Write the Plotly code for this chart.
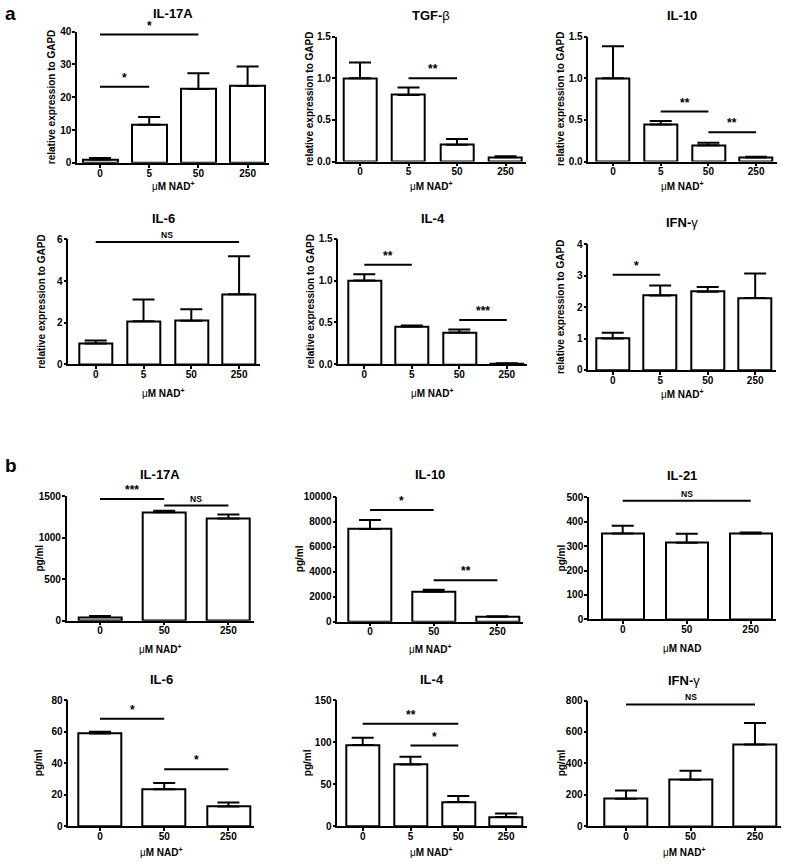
import plotly.graph_objects as go

W, H = 787, 866

# ---------------- data ----------------
cats4 = ["0", "5", "50", "250"]
cats3 = ["0", "50", "250"]

# panel a: relative expression to GAPD (mean, upper SEM)
a_il17a = [1.0, 11.6, 22.5, 23.4]
a_il17a_err = [0.45, 2.4, 4.8, 6.0]
a_tgfb = [1.0, 0.80, 0.20, 0.05]
a_tgfb_err = [0.19, 0.09, 0.07, 0.012]
a_il10 = [1.0, 0.445, 0.195, 0.048]
a_il10_err = [0.385, 0.04, 0.03, 0.008]
a_il6 = [1.0, 2.07, 2.09, 3.37]
a_il6_err = [0.14, 1.04, 0.56, 1.82]
a_il4 = [1.0, 0.452, 0.38, 0.01]
a_il4_err = [0.075, 0.012, 0.035, 0.003]
a_ifng = [1.0, 2.37, 2.49, 2.29]
a_ifng_err = [0.18, 0.32, 0.15, 0.78]

# panel b: pg/ml
b_il17a = [45, 1310, 1232]
b_il17a_err = [12, 18, 50]
b_il10 = [7420, 2390, 400]
b_il10_err = [720, 160, 35]
b_il21 = [352, 314, 352]
b_il21_err = [32, 37, 4]
b_il6 = [58.8, 23.5, 12.5]
b_il6_err = [1.2, 4.0, 2.5]
b_il4 = [96.8, 73.5, 28.7, 11.0]
b_il4_err = [8.5, 9.2, 7.2, 4.0]
b_ifng = [174, 296, 520]
b_ifng_err = [53, 57, 137]

# significance bars: (from index, to index, y value, label)
sig_a_il17a = [(0, 2, 39.1, "*"), (0, 1, 23.2, "*")]
sig_a_tgfb = [(1, 2, 1.0, "**")]
sig_a_il10 = [(1, 2, 0.60, "**"), (2, 3, 0.35, "**")]
sig_a_il6 = [(0, 3, 5.87, "NS")]
sig_a_il4 = [(0, 1, 1.19, "**"), (2, 3, 0.53, "***")]
sig_a_ifng = [(0, 1, 3.03, "*")]
sig_b_il17a = [(0, 1, 1468, "***"), (1, 2, 1389, "NS")]
sig_b_il10 = [(0, 1, 8940, "*"), (1, 2, 3310, "**")]
sig_b_il21 = [(0, 2, 486, "NS")]
sig_b_il6 = [(0, 1, 68.3, "*"), (1, 2, 36.2, "*")]
sig_b_il4 = [(0, 2, 122, "**"), (1, 2, 96, "*")]
sig_b_ifng = [(0, 2, 775, "NS")]

ytitle_a = "<b>relative expression to GAPD</b>"
ytitle_b = "<b>pg/ml</b>"
xtitle_plus = "μ<b>M NAD<sup>+</sup></b>"
xtitle_plain = "μ<b>M NAD</b>"

panels = [
    dict(title="<b>IL-17A</b>", cats=cats4, v=a_il17a, e=a_il17a_err, ymax=40, dt=10, fmt="d", yt=ytitle_a, xt=xtitle_plus, sig=sig_a_il17a),
    dict(title="<b>TGF-</b>β", cats=cats4, v=a_tgfb, e=a_tgfb_err, ymax=1.5, dt=0.5, fmt=".1f", yt=ytitle_a, xt=xtitle_plus, sig=sig_a_tgfb),
    dict(title="<b>IL-10</b>", cats=cats4, v=a_il10, e=a_il10_err, ymax=1.5, dt=0.5, fmt=".1f", yt=ytitle_a, xt=xtitle_plus, sig=sig_a_il10),
    dict(title="<b>IL-6</b>", cats=cats4, v=a_il6, e=a_il6_err, ymax=6, dt=2, fmt="d", yt=ytitle_a, xt=xtitle_plus, sig=sig_a_il6),
    dict(title="<b>IL-4</b>", cats=cats4, v=a_il4, e=a_il4_err, ymax=1.5, dt=0.5, fmt=".1f", yt=ytitle_a, xt=xtitle_plus, sig=sig_a_il4),
    dict(title="<b>IFN-</b>γ", cats=cats4, v=a_ifng, e=a_ifng_err, ymax=4, dt=1, fmt="d", yt=ytitle_a, xt=xtitle_plus, sig=sig_a_ifng),
    dict(title="<b>IL-17A</b>", cats=cats3, v=b_il17a, e=b_il17a_err, ymax=1500, dt=500, fmt="d", yt=ytitle_b, xt=xtitle_plus, sig=sig_b_il17a),
    dict(title="<b>IL-10</b>", cats=cats3, v=b_il10, e=b_il10_err, ymax=10000, dt=2000, fmt="d", yt=ytitle_b, xt=xtitle_plus, sig=sig_b_il10),
    dict(title="<b>IL-21</b>", cats=cats3, v=b_il21, e=b_il21_err, ymax=500, dt=100, fmt="d", yt=ytitle_b, xt=xtitle_plain, sig=sig_b_il21),
    dict(title="<b>IL-6</b>", cats=cats3, v=b_il6, e=b_il6_err, ymax=80, dt=20, fmt="d", yt=ytitle_b, xt=xtitle_plus, sig=sig_b_il6),
    dict(title="<b>IL-4</b>", cats=cats4, v=b_il4, e=b_il4_err, ymax=150, dt=50, fmt="d", yt=ytitle_b, xt=xtitle_plus, sig=sig_b_il4),
    dict(title="<b>IFN-</b>γ", cats=cats3, v=b_ifng, e=b_ifng_err, ymax=800, dt=200, fmt="d", yt=ytitle_b, xt=xtitle_plus, sig=sig_b_ifng),
]

# ---------------- layout geometry (pixels) ----------------
# left axis x, first bar centre, bar spacing, top(ymax) y, bottom(0) y, bar width,
# title y, x-title y, y-title x
geoms = [
    (77.0, 100.0, 49.2, 26.0, 159.0, 35, 8, 183, 51),
    (336.7, 360.0, 48.5, 31.0, 157.7, 33, 10, 183, 309),
    (588.3, 613.0, 47.7, 31.0, 157.7, 33, 10, 183, 560),
    (68.3, 95.7, 47.8, 236.7, 363.3, 33, 215, 392, 42),
    (338.3, 364.3, 47.5, 236.0, 363.3, 33, 215, 392, 310),
    (588.3, 612.7, 47.5, 241.7, 369.0, 33, 220, 393, 560),
    (66.7, 100.0, 64.2, 497.3, 623.3, 43, 475, 652, 40),
    (337.3, 370.0, 63.7, 497.7, 624.3, 43, 475, 652, 299),
    (589.0, 622.7, 64.0, 498.3, 622.0, 42, 476, 652, 561),
    (68.3, 100.0, 64.2, 704.0, 831.7, 43, 683, 858, 38),
    (337.3, 362.7, 47.8, 704.0, 831.7, 33, 683, 858, 307),
    (588.3, 626.0, 64.5, 704.3, 831.7, 43, 684, 858, 561),
]

FONT = "Liberation Sans"
fig = go.Figure()
annotations = []
shapes = []
layout_axes = {}

for k, (p, g) in enumerate(zip(panels, geoms)):
    left, c0, sp, top, bot, bw, ty, xty, ytx = g
    n = len(p["cats"])
    sfx = "" if k == 0 else str(k + 1)
    xa, ya = "x" + sfx, "y" + sfx
    last = c0 + (n - 1) * sp
    right = last + bw / 2 + 4
    xr = [-(c0 - left) / sp, (n - 1) + (right - last) / sp]
    xs = list(range(n))
    fig.add_trace(go.Bar(
        x=xs, y=p["v"], width=bw / sp,
        marker=dict(color="white", line=dict(color="black", width=2)),
        error_y=dict(type="data", symmetric=False, array=p["e"], arrayminus=[0] * n,
                     color="black", thickness=2, width=11),
        xaxis=xa, yaxis=ya, showlegend=False, hoverinfo="skip"))
    layout_axes["xaxis" + sfx] = dict(
        domain=[left / W, right / W], range=xr, anchor=ya,
        tickmode="array", tickvals=xs, ticktext=["<b>%s</b>" % c for c in p["cats"]],
        showline=True, linecolor="black", linewidth=1.5, ticks="outside",
        ticklen=3, tickwidth=1.5, tickcolor="black", showgrid=False, zeroline=False,
        ticklabelstandoff=-3,
        tickfont=dict(family=FONT, size=10, color="black"), fixedrange=True)
    layout_axes["yaxis" + sfx] = dict(
        domain=[1 - bot / H, 1 - top / H], range=[0, p["ymax"]], anchor=xa,
        dtick=p["dt"], tick0=0, tickformat=p["fmt"],
        showline=True, linecolor="black", linewidth=1.5, ticks="outside",
        ticklen=3, tickwidth=1.5, tickcolor="black", showgrid=False, zeroline=False,
        ticklabelstandoff=-1,
        tickfont=dict(family=FONT, size=10, color="black", weight="bold"), fixedrange=True)
    cx = (left + right) / 2
    annotations.append(dict(text=p["title"], x=cx / W, y=1 - ty / H, xref="paper", yref="paper",
                            xanchor="center", yanchor="middle", showarrow=False,
                            font=dict(family=FONT, size=13, color="black")))
    annotations.append(dict(text=p["xt"], x=cx / W, y=1 - xty / H, xref="paper", yref="paper",
                            xanchor="center", yanchor="middle", showarrow=False,
                            font=dict(family=FONT, size=10, color="black")))
    annotations.append(dict(text=p["yt"], x=ytx / W, y=1 - (top + bot) / 2 / H, xref="paper",
                            yref="paper", xanchor="center", yanchor="middle", textangle=-90,
                            showarrow=False, font=dict(family=FONT, size=10, color="black")))
    for (i0, i1, yv, lab) in p["sig"]:
        shapes.append(dict(type="line", xref=xa, yref=ya, x0=i0, x1=i1, y0=yv, y1=yv,
                           line=dict(color="black", width=2)))
        annotations.append(dict(text="<b>%s</b>" % lab, x=(i0 + i1) / 2, y=yv, xref=xa, yref=ya,
                                xanchor="center", yanchor="bottom", showarrow=False, yshift=0,
                                font=dict(family=FONT, size=12 if lab != "NS" else 8.5,
                                          color="black")))

annotations.append(dict(text="<b>a</b>", x=3 / W, y=1 - 8 / H, xref="paper", yref="paper",
                        xanchor="left", yanchor="middle", showarrow=False,
                        font=dict(family=FONT, size=19, color="black")))
annotations.append(dict(text="<b>b</b>", x=3 / W, y=1 - 466 / H, xref="paper", yref="paper",
                        xanchor="left", yanchor="middle", showarrow=False,
                        font=dict(family=FONT, size=19, color="black")))

fig.update_layout(width=W, height=H, margin=dict(l=0, r=0, t=0, b=0),
                  paper_bgcolor="white", plot_bgcolor="white",
                  annotations=annotations, shapes=shapes, bargap=0,
                  font=dict(family=FONT, color="black"), **layout_axes)

fig.write_html("out.html", config={"displayModeBar": False},
               post_script="document.body.style.margin='0';")
